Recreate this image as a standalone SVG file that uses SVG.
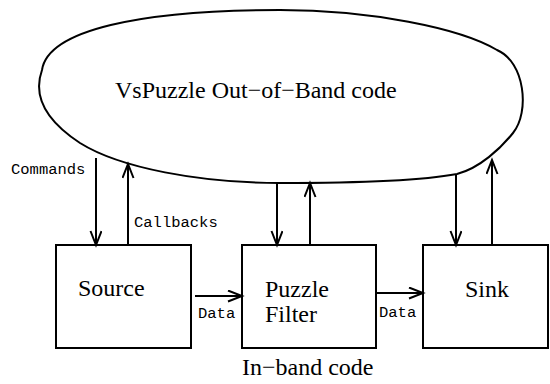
<svg xmlns="http://www.w3.org/2000/svg" width="550" height="384" viewBox="0 0 550 384">
  <style>
    .box { fill: #fff; stroke: #000; stroke-width: 2; }
    .blob { fill: #fff; stroke: #000; stroke-width: 2; }
    .conn line { stroke: #000; stroke-width: 2; marker-end: url(#arrow); }
    .rm { font-size: 24px; fill: #000; }
    .tt { font-size: 15.5px; fill: #000; }
  </style>
  <defs>
    <marker id="arrow" markerUnits="userSpaceOnUse" markerWidth="18" markerHeight="14" refX="15" refY="6" orient="auto">
      <path d="M1,0.5 L15,6 L1,11.5" fill="none" stroke="#000" stroke-width="2"/>
    </marker>
  </defs>
  <rect width="550" height="384" fill="#fff"/>

  <g id="out-of-band">
    <path class="blob" d="M280,10 C370,10 460,28 497,50 C525,62 530,112 513,133 C501,148 480,168 457,174 C420,181 340,183 280,183 C200,183 120,168 80,143 C45,120 33,95 42,70 C48,30 140,10 280,10 Z"/>
    <text class="rm" font-family="Liberation Serif, Tinos, Times New Roman, DejaVu Serif, serif" x="115" y="98">VsPuzzle Out−of−Band code</text>
  </g>

  <g id="source">
    <rect class="box" x="56" y="245" width="135" height="103"/>
    <text class="rm" font-family="Liberation Serif, Tinos, Times New Roman, DejaVu Serif, serif" x="78" y="296">Source</text>
  </g>

  <g id="puzzle-filter">
    <rect class="box" x="242" y="245" width="134" height="103"/>
    <text class="rm" font-family="Liberation Serif, Tinos, Times New Roman, DejaVu Serif, serif" x="265" y="297">Puzzle</text>
    <text class="rm" font-family="Liberation Serif, Tinos, Times New Roman, DejaVu Serif, serif" x="265" y="322">Filter</text>
  </g>

  <g id="sink">
    <rect class="box" x="423" y="245" width="125" height="103"/>
    <text class="rm" font-family="Liberation Serif, Tinos, Times New Roman, DejaVu Serif, serif" x="465" y="297">Sink</text>
  </g>

  <g id="in-band-label">
    <text class="rm" font-family="Liberation Serif, Tinos, Times New Roman, DejaVu Serif, serif" x="242" y="375">In−band code</text>
  </g>

  <g class="conn" id="connectors">
    <line x1="96" y1="158" x2="96" y2="245"/>
    <line x1="128" y1="245" x2="128" y2="164"/>
    <line x1="277" y1="183" x2="277" y2="245"/>
    <line x1="310" y1="245" x2="310" y2="183"/>
    <line x1="456" y1="174" x2="456" y2="245"/>
    <line x1="492" y1="245" x2="492" y2="160"/>
    <line x1="195" y1="296" x2="242" y2="296"/>
    <line x1="376" y1="293" x2="423" y2="293"/>
  </g>

  <g id="connector-labels">
    <text class="tt" font-family="Liberation Mono, Cousine, Courier New, DejaVu Sans Mono, monospace" x="11" y="174">Commands</text>
    <text class="tt" font-family="Liberation Mono, Cousine, Courier New, DejaVu Sans Mono, monospace" x="134" y="227">Callbacks</text>
    <text class="tt" font-family="Liberation Mono, Cousine, Courier New, DejaVu Sans Mono, monospace" x="198" y="318">Data</text>
    <text class="tt" font-family="Liberation Mono, Cousine, Courier New, DejaVu Sans Mono, monospace" x="379" y="317">Data</text>
  </g>
</svg>
